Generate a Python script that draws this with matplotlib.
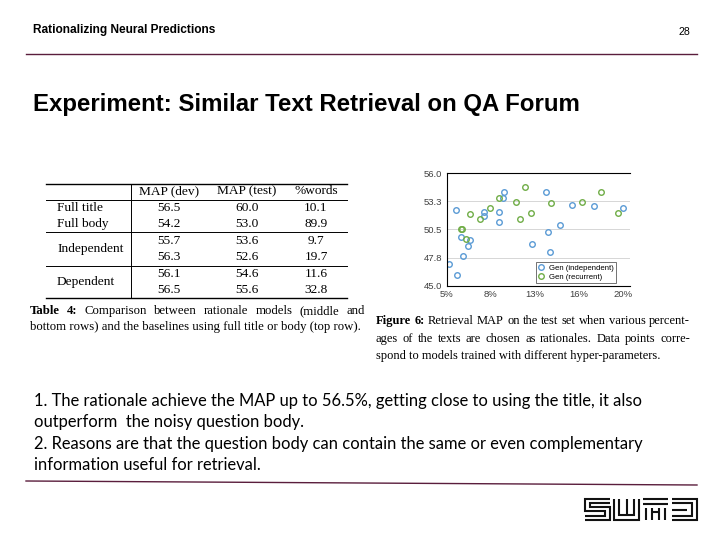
import numpy as np
import matplotlib
matplotlib.use('Agg')
from matplotlib import pyplot as plt

# scatter data (% of words chosen, test MAP)
indep_pct = [5.76, 9.90, 9.76, 8.17, 8.14, 9.44, 9.44, 6.19, 7.00, 6.84, 6.38,
             5.17, 5.88, 13.41, 13.63, 12.27, 13.75, 14.63, 15.67, 17.49, 19.95]
indep_map = [52.38, 54.14, 53.61, 52.20, 51.85, 52.21, 51.23, 49.77, 49.50, 48.91, 47.94,
             47.10, 46.05, 54.20, 50.22, 49.05, 48.27, 50.97, 52.93, 52.77, 52.64]
recur_pct = [11.68, 9.47, 10.89, 13.84, 16.50, 18.11, 19.55, 12.19, 11.25, 8.65,
             7.83, 7.00, 6.22, 6.30, 6.66]
recur_map = [54.66, 53.61, 53.19, 53.06, 53.22, 54.17, 52.14, 52.14, 51.50, 52.57,
             51.56, 51.98, 50.58, 50.52, 49.54]
x_ticklabels = ['5%', '8%', '13%', '16%', '20%']
y_ticklabels = ['45.0', '47.8', '50.5', '53.3', '56.0']

# table 4
col_headers = ['MAP (dev)', 'MAP (test)', '%words']
row_labels = ['Full title', 'Full body', 'Independent', '', 'Dependent', '']
map_dev = [56.5, 54.2, 55.7, 56.3, 56.1, 56.5]
map_test = [60.0, 53.0, 53.6, 52.6, 54.6, 55.6]
pct_words = [10.1, 89.9, 9.7, 19.7, 11.6, 32.8]

bullets = [
    '1. The rationale achieve the MAP up to 56.5%, getting close to using the title, it also',
    'outperform  the noisy question body.',
    '2. Reasons are that the question body can contain the same or even complementary',
    'information useful for retrieval.',
]

maroon = '#5a1d3c'
blue = '#5b9bd5'
green = '#70ad47'
serif = 'Liberation Serif'

fig = plt.figure(figsize=(7.2, 5.4), dpi=100)
ax = fig.add_axes([0, 0, 1, 1])
ax.set_xlim(0, 720)
ax.set_ylim(540, 0)
ax.axis('off')
renderer = fig.canvas.get_renderer()


def justified(words, x0, x1, y, bold_n=0, **kw):
    texts = []
    for i, w in enumerate(words):
        weight = 'bold' if i < bold_n else 'normal'
        texts.append(ax.text(0, y, w, ha='left', va='center', fontweight=weight, **kw))
    widths = [t.get_window_extent(renderer).width for t in texts]
    gap = (x1 - x0 - sum(widths)) / (len(words) - 1)
    x = x0
    for t, w in zip(texts, widths):
        t.set_x(x)
        x += w + gap


# header
ax.text(33, 30, 'Rationalizing Neural Predictions', fontsize=8.6, fontweight='bold',
        family='Liberation Sans', va='center')
ax.text(690, 32, '28', fontsize=7.6, family='Liberation Sans', va='center', ha='right')
ax.plot([26, 697], [54, 54], color=maroon, lw=1.0)
ax.text(33, 105, 'Experiment: Similar Text Retrieval on QA Forum', fontsize=17.3,
        fontweight='bold', family='Liberation Sans', va='center')

# table
tx = [46, 347]
for yl, lw in [(184, 1.0), (200, 0.7), (232, 0.7), (265.5, 0.7), (298, 1.0)]:
    ax.plot(tx, [yl, yl], color='black', lw=lw)
ax.plot([131, 131], [184, 298], color='black', lw=0.7)
col_x = [169, 247, 316]
for cx, h in zip(col_x, col_headers):
    ax.text(cx, 191, h, fontsize=9.6, family=serif, ha='center', va='center')
row_y = [208, 224, 241, 257.5, 274, 290]
label_y = [208, 224, 249, 249, 282, 282]
for i in range(len(row_labels)):
    if row_labels[i]:
        ax.text(57, label_y[i], row_labels[i], fontsize=9.6, family=serif, va='center')
    for cx, v in zip(col_x, [map_dev[i], map_test[i], pct_words[i]]):
        ax.text(cx, row_y[i], f'{v:.1f}', fontsize=9.6, family=serif, ha='center', va='center')

justified('Table 4: Comparison between rationale models (middle and'.split(), 30, 365, 311,
          bold_n=2, fontsize=9.2, family=serif)
ax.text(30, 327, 'bottom rows) and the baselines using full title or body (top row).',
        fontsize=9.2, family=serif, va='center')

justified('Figure 6: Retrieval MAP on the test set when various percent-'.split(), 376, 690, 321,
          bold_n=2, fontsize=9.0, family=serif)
justified('ages of the texts are chosen as rationales.  Data points corre-'.split(), 376, 690, 339,
          fontsize=9.0, family=serif)
ax.text(376, 356, 'spond to models trained with different hyper-parameters.',
        fontsize=9.0, family=serif, va='center')

# bullet text
for i, line in enumerate(bullets):
    ax.text(34, 401 + i * 21.5, line, fontsize=11.9, family='Lato', va='center')

# footer line + logo
ax.plot([26, 697], [481, 485], color=maroon, lw=1.0)
logo = [
    [[(25, 0), (0, 0), (0, 12), (20, 12), (20, 17), (0, 17)],
     [(0, 21), (25, 21), (25, 8), (5, 8), (5, 4), (25, 4)]],
    [[(0, 0), (0, 21), (25, 21), (25, 0)],
     [(5, 0), (5, 16), (20, 16), (20, 0)],
     [(12.5, 0), (12.5, 16)]],
    [[(0, 0), (25, 0)], [(0, 5), (25, 5)],
     [(3, 9), (3, 21)], [(9, 9), (9, 21)], [(16, 9), (16, 21)], [(22, 9), (22, 21)],
     [(9, 13), (16, 13)]],
    [[(0, 0), (25, 0), (25, 21), (0, 21)],
     [(0, 4), (20, 4), (20, 17), (0, 17)],
     [(0, 10.5), (15, 10.5)]],
]
for g, glyph in enumerate(logo):
    gx = 585 + g * 29
    for path in glyph:
        xs = [gx + p[0] for p in path]
        ys = [499 + p[1] for p in path]
        ax.plot(xs, ys, color='#111111', lw=1.5, solid_capstyle='butt', solid_joinstyle='miter')

# scatter (figure 6)
W, H = 720.0, 540.0
sx0, sx1, sy0, sy1 = 446.7, 630.0, 173.3, 285.7
sax = fig.add_axes([sx0 / W, 1 - sy1 / H, (sx1 - sx0) / W, (sy1 - sy0) / H])
sax.plot(indep_pct, indep_map, 'o', ms=4, mfc='none', mec=blue, mew=1.0,
         label='Gen (independent)')
sax.plot(recur_pct, recur_map, 'o', ms=4, mfc='none', mec=green, mew=1.0,
         label='Gen (recurrent)')
sax.set_xlim(5, 20.57)
sax.set_ylim(45, 56)
sax.set_xticks(np.linspace(5, 20, 5))
sax.set_xticklabels(x_ticklabels)
sax.set_yticks(np.linspace(45, 56, 5))
sax.set_yticklabels(y_ticklabels)
sax.tick_params(length=0, labelsize=6.8, labelcolor='#404040', pad=3)
for lab in sax.get_xticklabels() + sax.get_yticklabels():
    lab.set_family('Liberation Sans')
sax.grid(axis='y', color='#d0d0d0', lw=0.6)
sax.set_axisbelow(True)
sax.spines['right'].set_visible(False)
for s in ['top', 'left', 'bottom']:
    sax.spines[s].set_linewidth(0.8)
leg = sax.legend(loc='lower right', bbox_to_anchor=(0.924, 0.024),
                 frameon=True, fancybox=False, edgecolor='#333333', handlelength=0.8,
                 handletextpad=0.6, borderpad=0.3, labelspacing=0.2, borderaxespad=0,
                 prop={'family': 'Liberation Sans', 'size': 5.6})
leg.get_frame().set_linewidth(0.6)

fig.savefig('out.png', dpi=100)
